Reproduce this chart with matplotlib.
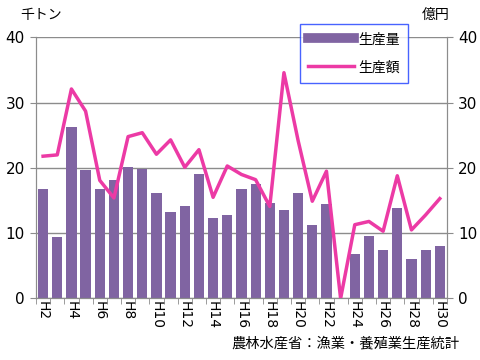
import matplotlib
matplotlib.use("Agg")
import matplotlib.pyplot as plt
from matplotlib.lines import Line2D
import numpy as np

plt.rcParams['font.family'] = ['Noto Sans CJK JP', 'DejaVu Sans']

years = [f"H{i}" for i in range(2, 31)]
volume = [16.7, 9.4, 26.2, 19.7, 16.8, 18.2, 20.2, 19.9, 16.1, 13.3, 14.2, 19.0,
          12.3, 12.8, 16.8, 17.6, 14.7, 13.6, 16.2, 11.2, 14.5, 0.0, 6.8, 9.6,
          7.4, 13.9, 6.0, 7.4, 8.0]
value = [21.8, 22.0, 32.1, 28.7, 18.1, 15.4, 24.8, 25.4, 22.1, 24.3, 20.1, 22.8,
         15.5, 20.3, 19.0, 18.2, 14.1, 34.6, 24.2, 14.9, 19.5, 0.0, 11.3, 11.8,
         10.3, 18.8, 10.5, 12.8, 15.3]
tick_labels = [y if i % 2 == 0 else "" for i, y in enumerate(years)]

bar_color = "#8064A2"
line_color = "#EC3AA5"
grid_color = "#8C8C8C"

fig = plt.figure(figsize=(4.8, 3.6), dpi=100)
ax = fig.add_axes([0.075, 0.171, 0.856, 0.725])
x = np.arange(len(years))
ax.bar(x, volume, width=0.72, color=bar_color, zorder=2)
ax.set_xlim(-0.5, len(years) - 0.5)
ax.set_ylim(0, 40)
ax.set_yticks([0, 10, 20, 30, 40])
ax.yaxis.grid(True, color=grid_color, linewidth=1.0, zorder=0)
ax.set_axisbelow(True)
ax.set_xticks(x)
ax.set_xticklabels(tick_labels, rotation=-90, fontsize=10, family='DejaVu Sans')
ax.tick_params(axis='x', length=0, pad=2)
ax.set_xticks(np.arange(-0.5, len(years), 1), minor=True)
ax.tick_params(axis='x', which='minor', length=4, color=grid_color)
ax.tick_params(axis='y', length=4, color=grid_color, labelsize=11, pad=4)
ax.spines['top'].set_visible(False)
for s in ['left', 'right', 'bottom']:
    ax.spines[s].set_color(grid_color)

ax2 = ax.twinx()
ax2.plot(x, value, color=line_color, linewidth=2.5, zorder=3)
ax2.set_ylim(0, 40)
ax2.set_yticks([0, 10, 20, 30, 40])
ax2.tick_params(axis='y', length=4, color=grid_color, labelsize=11, pad=4)
ax2.spines['top'].set_visible(False)
for s in ['left', 'right', 'bottom']:
    ax2.spines[s].set_color(grid_color)

for a in (ax, ax2):
    for lab in a.get_yticklabels():
        lab.set_family('DejaVu Sans')

fig.text(20/480, 1 - 15/360, "千トン", fontsize=10, va='center', ha='left')
fig.text(450/480, 1 - 15/360, "億円", fontsize=10, va='center', ha='right')
fig.text(459/480, 1 - 343/360, "農林水産省：漁業・養殖業生産統計", fontsize=10.3, va='center', ha='right')

handles = [Line2D([0], [0], color=bar_color, linewidth=7),
           Line2D([0], [0], color=line_color, linewidth=2.5)]
leg = fig.legend(handles, ["生産量", "生産額"], loc='upper left',
                 bbox_to_anchor=(300/480, 1 - 24/360), frameon=True, fancybox=False,
                 fontsize=10, handlelength=3.3, borderpad=0.6, labelspacing=1.0,
                 handletextpad=0.3, borderaxespad=0.0)
leg.get_frame().set_edgecolor("#1A3CFF")
leg.get_frame().set_linewidth(1.0)
leg.set_zorder(10)

fig.savefig("out.png", dpi=100)
